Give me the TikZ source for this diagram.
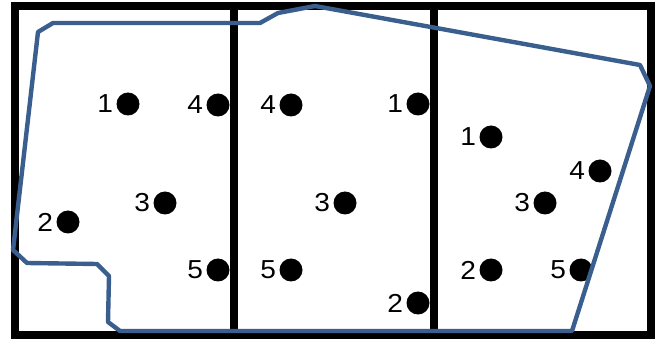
\documentclass[tikz,border=0pt]{standalone}
\usepackage{fontspec}
\setmainfont{Liberation Sans}
\usetikzlibrary{positioning}
\definecolor{zoneblue}{HTML}{3A5F8E}

\tikzset{
  frame/.style={line width=8pt, line join=miter},
  zone/.style={draw=zoneblue, line width=4.4pt, line join=round},
  spot/.style={circle, fill=black, inner sep=0pt, minimum size=23pt},
  num/.style={font=\fontsize{26}{26}\selectfont, inner sep=0pt, xscale=1.08}
}

\begin{document}
\begin{tikzpicture}[x=1pt, y=-1pt]
  \useasboundingbox (0,0) rectangle (659,339);
  % outer frame and the two dividers
  \draw[frame] (15,6) rectangle (651,335);
  \draw[frame] (233.5,6) -- (233.5,335);
  \draw[frame] (433.5,6) -- (433.5,335);

  % points with their numbers
  \foreach \px/\py/\n/\id in {128/104/1/a1, 218/105/4/a4, 165/203/3/a3, 68/222/2/a2, 218/270/5/a5,
                              291/105/4/b4, 418/104/1/b1, 345/203/3/b3, 291/270/5/b5, 418/303/2/b2,
                              491/137/1/c1, 600/171/4/c4, 545/203/3/c3, 491/270/2/c2, 581/270/5/c5}
  {
    \node[spot] (\id) at (\px,\py) {};
    \node[num, left=3pt of \id] (\id-n) {\n};
  }

  % zone outline
  \draw[zone] (38,32) -- (53,23) -- (260,23) -- (278,13) -- (315,6) -- (640,65) -- (650,86)
    -- (572,331) -- (120,331) -- (108,322) -- (109,276) -- (97,264) -- (27,263) -- (13,250) -- cycle;
\end{tikzpicture}
\end{document}
